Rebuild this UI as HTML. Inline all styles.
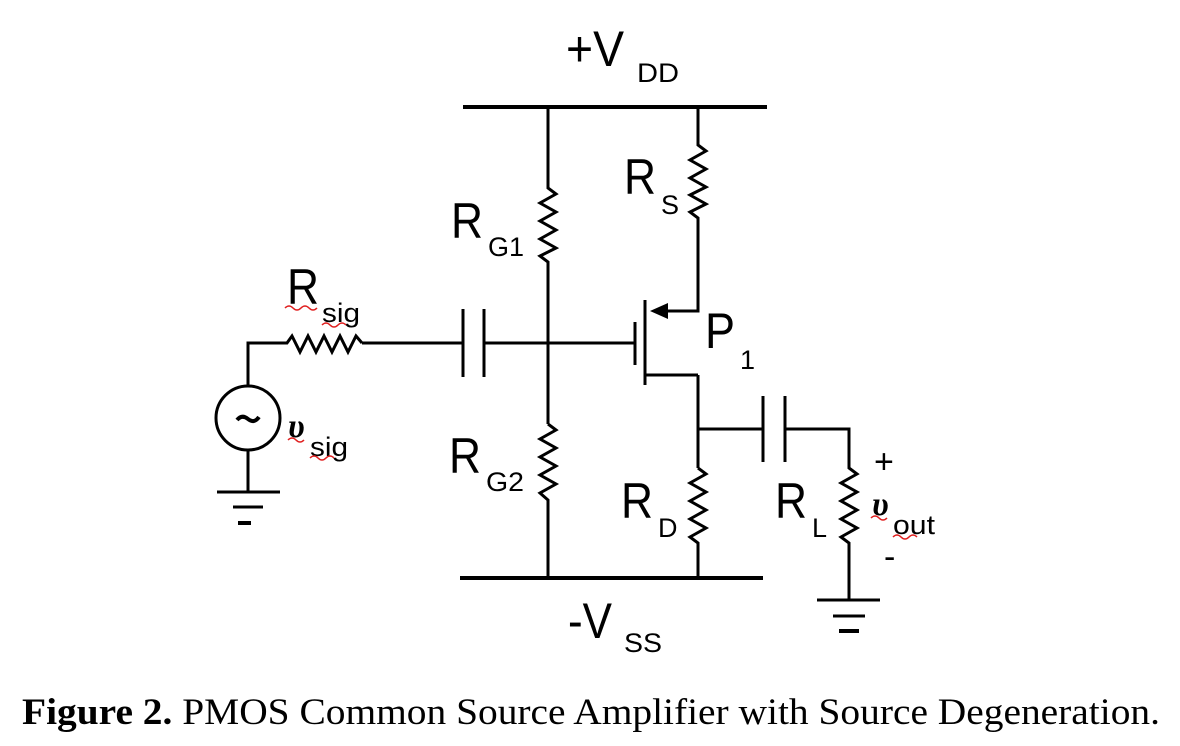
<!DOCTYPE html>
<html><head><meta charset="utf-8"><style>html,body{margin:0;padding:0;background:#fff}svg{display:block}</style></head>
<body>
<svg width="1180" height="746" viewBox="0 0 1180 746" xmlns="http://www.w3.org/2000/svg">
<g fill="none" stroke="#000" stroke-width="3">
<line x1="463" y1="107" x2="767" y2="107" stroke-width="4"/>
<line x1="460" y1="578" x2="763" y2="578" stroke-width="4"/>
<polyline points="548,107 548,188 556,194 540,203 556,212 540,221 556,230 540,239 556,248 540,256 548,262 548,424"/>
<polyline points="548,424 556,430 540,439 556,448 540,457 556,466 540,475 556,484 540,493 548,500 548,578"/>
<polyline points="698,107 698,145 706,151 690,160 706,169 690,178 706,187 690,195 706,204 690,212 698,218 698,311 665,311"/>
<polygon points="650,311 668,303 668,319" fill="#000" stroke="none"/>
<line x1="645" y1="300" x2="645" y2="385"/>
<line x1="635" y1="322" x2="635" y2="365"/>
<line x1="645" y1="375" x2="698" y2="375"/>
<line x1="698" y1="375" x2="698" y2="468"/>
<polyline points="698,468 706,474 690,483 706,492 690,501 706,510 690,519 706,528 690,537 698,543 698,578"/>
<line x1="484" y1="343" x2="635" y2="343"/>
<line x1="463" y1="309" x2="463" y2="377"/>
<line x1="484" y1="309" x2="484" y2="377"/>
<line x1="362" y1="343" x2="463" y2="343"/>
<polyline points="248,385 248,343 287,343 292,336 300,352 308,336 316,352 324,336 332,352 340,336 348,352 356,336 362,343"/>
<circle cx="248" cy="418" r="32"/>
<line x1="248" y1="450" x2="248" y2="492"/>
<line x1="217" y1="492" x2="280" y2="492"/>
<line x1="233" y1="507" x2="263" y2="507"/>
<line x1="238" y1="523" x2="251" y2="523" stroke-width="4"/>
<line x1="698" y1="429" x2="763" y2="429"/>
<line x1="763" y1="396" x2="763" y2="462"/>
<line x1="785" y1="396" x2="785" y2="462"/>
<polyline points="785,429 849,429 849,468 857,474 841,483 857,492 841,501 857,510 841,519 857,528 841,537 849,543 849,600"/>
<line x1="817" y1="600" x2="880" y2="600"/>
<line x1="833" y1="616" x2="865" y2="616"/>
<line x1="839" y1="631" x2="859" y2="631" stroke-width="4"/>
<path d="M237,420 q5,-6 11,-1 t11,-2" stroke-width="4"/>
</g>
<g font-family="Liberation Sans,sans-serif" fill="#000">
<text x="566" y="66" font-size="50" textLength="58" lengthAdjust="spacingAndGlyphs">+V</text><text x="637" y="82" font-size="27" textLength="42" lengthAdjust="spacingAndGlyphs">DD</text>
<text x="451" y="238" font-size="50" textLength="32" lengthAdjust="spacingAndGlyphs">R</text><text x="488" y="256" font-size="27" textLength="36" lengthAdjust="spacingAndGlyphs">G1</text>
<text x="624" y="194" font-size="50" textLength="32" lengthAdjust="spacingAndGlyphs">R</text><text x="661" y="214" font-size="27">S</text>
<text x="287" y="304" font-size="50" textLength="32" lengthAdjust="spacingAndGlyphs">R</text><text x="322" y="322" font-size="27" textLength="38" lengthAdjust="spacingAndGlyphs">sig</text>
<text x="705" y="348" font-size="50" textLength="30" lengthAdjust="spacingAndGlyphs">P</text><text x="740" y="369" font-size="27">1</text>
<text x="288" y="437" font-size="34" font-style="italic" font-weight="bold" font-family="Liberation Serif,serif">υ</text><text x="310" y="456" font-size="27" textLength="38" lengthAdjust="spacingAndGlyphs">sig</text>
<text x="449" y="473" font-size="50" textLength="32" lengthAdjust="spacingAndGlyphs">R</text><text x="486" y="491" font-size="27" textLength="38" lengthAdjust="spacingAndGlyphs">G2</text>
<text x="621" y="518" font-size="50" textLength="32" lengthAdjust="spacingAndGlyphs">R</text><text x="658" y="537" font-size="27">D</text>
<text x="775" y="518" font-size="50" textLength="32" lengthAdjust="spacingAndGlyphs">R</text><text x="812" y="537" font-size="27">L</text>
<text x="872" y="515" font-size="34" font-style="italic" font-weight="bold" font-family="Liberation Serif,serif">υ</text><text x="893" y="534" font-size="27" textLength="42" lengthAdjust="spacingAndGlyphs">out</text>
<text x="874" y="473" font-size="34">+</text>
<text x="884" y="568" font-size="34">-</text>
<text x="568" y="638" font-size="50" textLength="44" lengthAdjust="spacingAndGlyphs">-V</text><text x="624" y="652" font-size="27" textLength="38" lengthAdjust="spacingAndGlyphs">SS</text>
</g>
<g fill="none" stroke="#e02020" stroke-width="1.5">
<path d="M285,308 q4,-4 8,0 t8,0 t8,0 t8,0"/>
<path d="M322,325 q4,-4 8,0 t8,0 t8,0"/>
<path d="M288,440 q4,-4 8,0 t8,0"/>
<path d="M310,458 q4,-4 8,0 t8,0 t8,0"/>
<path d="M871,518 q4,-4 8,0 t8,0"/>
<path d="M893,537 q4,-4 8,0 t8,0 t8,0"/>
</g>
<text x="22" y="724" font-family="Liberation Serif,serif" font-size="37" textLength="1138" lengthAdjust="spacingAndGlyphs"><tspan font-weight="bold">Figure 2.</tspan> PMOS Common Source Amplifier with Source Degeneration.</text>
</svg>
</body></html>
